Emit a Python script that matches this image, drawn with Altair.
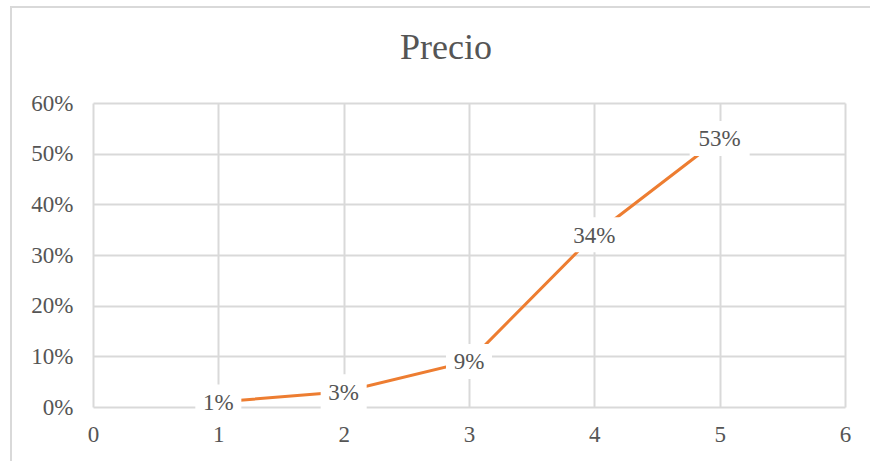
import altair as alt
import pandas as pd

# Price response share per rating level
levels = [1, 2, 3, 4, 5]
shares = [0.01, 0.03, 0.09, 0.34, 0.53]
labels = ["1%", "3%", "9%", "34%", "53%"]

x_ticks = [0, 1, 2, 3, 4, 5, 6]
y_ticks = [0, 0.1, 0.2, 0.3, 0.4, 0.5, 0.6]

TITLE = "Precio"

FONT = "Liberation Serif, Times New Roman, serif"
GREY_TEXT = "#555555"
GRID = "#d9d9d9"
ORANGE = "#ED7D31"

SYMBOL_SIZE = 3600  # symbol unit = sqrt(size) / 2 = 30 px


def box_path(text):
    # white label box: width grows with the text, fixed height (in px)
    unit = SYMBOL_SIZE ** 0.5 / 2
    half_w = (9 + 7 * len(text)) / unit
    half_h = 17.5 / unit
    return f"M{-half_w:.3f},{-half_h:.3f}H{half_w:.3f}V{half_h:.3f}H{-half_w:.3f}Z"


df = pd.DataFrame({"nivel": levels, "valor": shares, "etiqueta": labels})
df["caja"] = df["etiqueta"].map(box_path)

x_enc = alt.X(
    "nivel:Q",
    scale=alt.Scale(domain=[0, 6], nice=False),
    axis=alt.Axis(values=x_ticks, format="d", title=None),
)
y_enc = alt.Y(
    "valor:Q",
    scale=alt.Scale(domain=[0, 0.6], nice=False),
    axis=alt.Axis(values=y_ticks, format=".0%", title=None),
)

base = alt.Chart(df).encode(x=x_enc, y=y_enc)

line = base.mark_line(color=ORANGE, strokeWidth=3)

boxes = base.mark_point(
    filled=True, fill="white", opacity=1, strokeWidth=0, size=SYMBOL_SIZE
).encode(shape=alt.Shape("caja:N", scale=None))

texts = base.mark_text(
    font=FONT, fontSize=23, color=GREY_TEXT, baseline="middle", align="center", dy=1
).encode(text="etiqueta:N")

# light outer frame of the chart area
frame = alt.Chart(df).mark_rect(
    fill=None, stroke=GRID, strokeWidth=1.5
).encode(
    x=alt.value(-82), x2=alt.value(800), y=alt.value(-96), y2=alt.value(380)
)

# chart heading, centred over the whole frame
heading = alt.Chart(pd.DataFrame({"t": [TITLE]})).mark_text(
    font=FONT, fontSize=36, color=GREY_TEXT, align="center", baseline="alphabetic"
).encode(text="t:N", x=alt.value(353), y=alt.value(-44))

chart = (
    alt.layer(frame, line, boxes, texts, heading)
    .properties(
        width=752,
        height=304,
        padding={"left": 93, "top": 103, "right": 25, "bottom": 54},
        autosize=alt.AutoSizeParams(type="none"),
        background="white",
    )
    .configure_view(stroke=None)
    .configure_text(font=FONT)
    .configure_axis(
        labelFont=FONT,
        labelFontSize=23,
        labelColor=GREY_TEXT,
        labelFlush=False,
        labelOverlap=False,
        gridColor=GRID,
        gridWidth=2,
        ticks=False,
        domain=False,
    )
    .configure_axisY(labelPadding=20)
    .configure_axisX(labelPadding=16)
)

chart.save("out.html", embed_options={"renderer": "svg", "actions": False})
